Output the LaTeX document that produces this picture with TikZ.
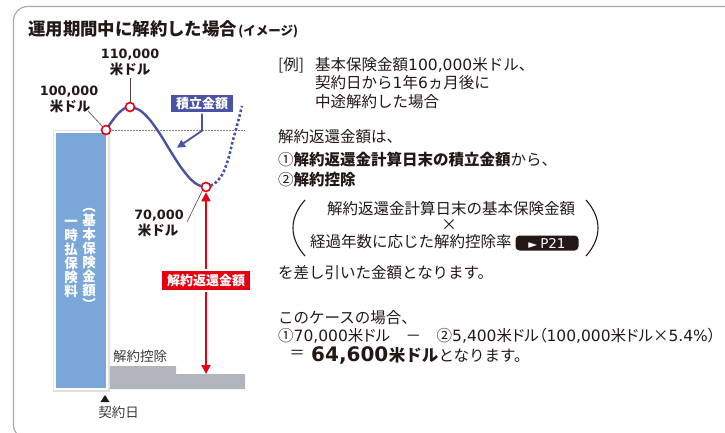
\documentclass[tikz,border=0pt]{standalone}
\usepackage{fontspec}
\setmainfont{Noto Sans CJK JP}
\newfontfamily\jpp{Noto Sans CJK JP}[RawFeature=+palt]
\newfontfamily\dvs{DejaVu Sans}
\newcommand{\pn}[1]{{\dvs #1}}
\usetikzlibrary{arrows.meta,shadows}
\definecolor{cblue}{HTML}{4A52A2}
\definecolor{cred}{HTML}{E60012}
\definecolor{cbar}{HTML}{7BA7D8}
\definecolor{cband}{HTML}{B1B4BC}
\definecolor{cframe}{HTML}{A9A8B0}
\definecolor{ctext}{HTML}{231815}
\definecolor{cgraytext}{HTML}{3A3A3A}
\tikzset{
  txt/.style={inner sep=0pt, text=ctext, font=\fontsize{15.5}{18.5}\selectfont},
  amount/.style={inner sep=0pt, text=ctext, font=\bfseries\fontsize{13.5}{14}\selectfont},
  amountnum/.style={inner sep=0pt, text=ctext, font=\dvs\bfseries\fontsize{12.8}{14}\selectfont},
  circ/.style={circle, draw=cred, fill=white, line width=1.6pt, minimum size=9pt, inner sep=0pt},
  lab/.style={draw=white, line width=1.5pt, text=white, inner xsep=6pt, inner ysep=0pt,
    minimum height=19pt, font=\bfseries\fontsize{13}{13}\selectfont,
    drop shadow={shadow xshift=1.2pt, shadow yshift=-1.2pt, opacity=0.35, fill=black}},
  vt/.style={inner sep=0pt, text=white, align=center, font=\bfseries\fontsize{13.5}{14}\selectfont},
  leader/.style={draw=ctext!80, line width=0.6pt},
  badge/.style={fill=ctext, rounded corners=4pt, text=white, inner sep=0pt, minimum width=63pt,
    minimum height=15pt, font=\dvs\fontsize{13.5}{13.5}\selectfont},
}
\begin{document}
\begin{tikzpicture}[x=1pt,y=-1pt]
\useasboundingbox (0,0) rectangle (725,433);
% frame
\begin{scope}
\clip (0,0) rectangle (725,433);
\draw[cframe, line width=1.2pt, rounded corners=14pt] (13.5,6.5) rectangle (745,439);
\end{scope}
% title
\node[anchor=base west, inner sep=0pt, text=ctext, font=\bfseries\fontsize{17.4}{17.4}\selectfont] (title) at (28,36) {運用期間中に解約した場合};
\node[anchor=base west, inner sep=0pt, text=ctext, font=\bfseries\fontsize{12.5}{12.5}\selectfont] (image) at ([xshift=1pt]title.base east) {(イメージ)};

% gray band
\fill[cband] (108,366) -- (176,366) -- (176,374) -- (245,374) -- (245,389) -- (108,389) -- cycle;
\node[inner sep=0pt, text=cgraytext, font=\fontsize{13.5}{13.5}\selectfont] (koujo) at (140,356) {解約控除};

% bar
\fill[black!12] (53,130) rectangle (110,392);
\filldraw[fill=cbar, draw=white, line width=2pt] (55,132) rectangle (107,389);
\node[vt] (vt1) at (89,259) {︵\\基\\本\\保\\険\\金\\額\\︶};
\node[vt] (vt2) at (71,259) {一\\時\\払\\保\\険\\料};

% start day
\fill[ctext] (100.5,402) -- (109.5,402) -- (105,395) -- cycle;
\node[inner sep=0pt, text=cgraytext, font=\fontsize{13.5}{13.5}\selectfont] (start) at (118.5,412) {契約日};

% dotted reference line
\coordinate (dotend) at (245,130);
\draw[gray, line width=0.6pt, dash pattern=on 1.5pt off 1.5pt] (106,130) -- (dotend);

% curves
\draw[cblue, line width=2.4pt, line join=round] plot[smooth, tension=0.5] coordinates {
  (106,130) (112,121.2) (118,113.7) (124,108.7) (130,107) (140,110.4) (150,120) (160,134)
  (170,150.3) (180,166) (190,178.6) (198,184.9) (206,187)};
\draw[cblue, line width=2.6pt, dash pattern=on 2.6pt off 2.2pt] plot[smooth, tension=0.5] coordinates {
  (206,187) (214,184) (222,175) (228,160) (233,140) (238,122) (242,106)};

% points
\node[circ] (p100) at (106,130) {};
\node[circ] (p110) at (130,107) {};
\node[circ] (p70) at (206,187) {};

% amount labels
\node[amountnum] (n110) at (130,55) {110,000};
\node[amount] (u110) at (130,69.5) {米ドル};
\node[amountnum] (n100) at (69,92) {100,000};
\node[amount] (u100) at (70,106.5) {米ドル};
\node[amountnum] (n70) at (159,216) {70,000};
\node[amount] (u70) at (158,230.5) {米ドル};
\coordinate (l110) at (130,78);
\coordinate (l100) at (88,111);
\coordinate (l70) at (187,222);
\draw[leader] (l110) -- (p110.north);
\draw[leader] (l100) -- (p100.north west);
\draw[leader] (l70) -- (p70.south west);

% red arrow
\coordinate (bandtop) at (206,374);
\draw[cred, line width=1.8pt, {Triangle[length=9pt,width=9pt]}-{Triangle[length=9pt,width=9pt]}] (p70.south) -- (bandtop);
\node[lab, fill=cred, minimum height=21pt] (henkan) at (206,280.5) {解約返還金額};

% accumulated label
\node[lab, fill=cblue] (tsumi) at (202,103.5) {積立金額};
\draw[cblue, line width=1.8pt, -{Triangle[length=8pt,width=8pt]}] (tsumi.south) -- ++(0,17) -- ++(-25,17);

% right text
\node[txt, anchor=base west] (r0) at (278,70.7) {[例]};
\node[txt, anchor=base west] (r1) at (315,70.7) {基本保険金額\pn{100,000}米ドル、};
\node[txt, anchor=base west] (r2) at (315,88.7) {契約日から\pn{1}年\pn{6}ヵ月後に};
\node[txt, anchor=base west] (r3) at (315,107.5) {中途解約した場合};
\node[txt, anchor=base west] (r4) at (278,142.7) {解約返還金額は、};
\node[txt, anchor=base west] (r5) at (278,165.7) {①{\bfseries 解約返還金計算日末の積立金額}から、};
\node[txt, anchor=base west] (r6) at (278,185.5) {②{\bfseries 解約控除}};
\node[txt, anchor=base] (f1) at (451,214.5) {解約返還金計算日末の基本保険金額};
\node[txt, anchor=base] (f2) at (449,230.5) {×};
\node[txt, anchor=base west] (f3) at (310,247.5) {経過年数に応じた解約控除率};
\node[badge] (p21) at (547,243) {{\fontsize{11.5}{11.5}\selectfont ►}\hspace{3pt}P21};
\draw[ctext, line width=1.1pt] (305,200) .. controls (289,218) and (289,238) .. (305,256);
\draw[ctext, line width=1.1pt] (586,200) .. controls (602,218) and (602,238) .. (586,256);
\node[txt, anchor=base west] (r7) at (278,278.5) {を差し引いた金額となります。};
\node[txt, anchor=base west] (r8) at (278,323.5) {このケースの場合、};
\node[txt, anchor=base west] (r9) at (278,341.5) {\jpp ①\pn{70,000}米ドル　－　②\pn{5,400}米ドル（\pn{100,000}米ドル×\pn{5.4\%}）};
\node[txt] (eq) at (297,354) {＝};
\node[txt, anchor=base west, font=\dvs\bfseries\fontsize{20}{20}\selectfont] (big) at (311,361) {64,600};
\node[txt, anchor=base west, font=\bfseries\fontsize{16.5}{16.5}\selectfont] (bigu) at (big.base east) {米ドル};
\node[txt, anchor=base west] (r10) at (bigu.base east) {となります。};
\end{tikzpicture}
\end{document}
